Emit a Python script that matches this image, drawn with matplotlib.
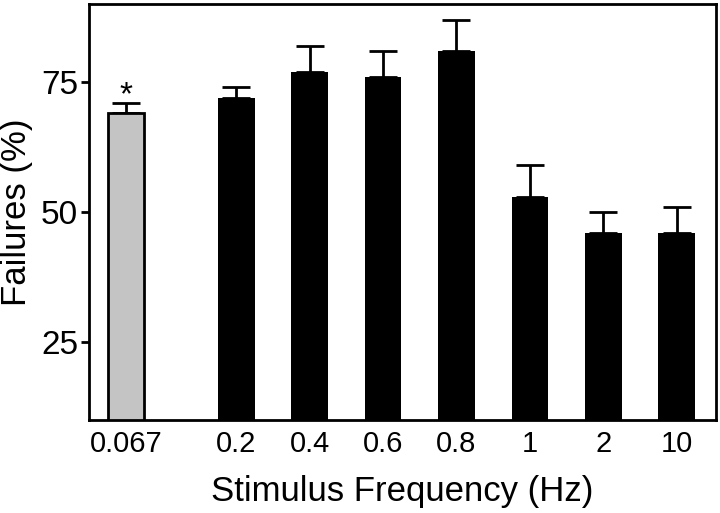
import numpy as np
import matplotlib
matplotlib.use('Agg')
import matplotlib.pyplot as plt

plt.rcParams['font.family'] = ['Liberation Sans', 'DejaVu Sans']

# data
freq_labels = ['0.067', '0.2', '0.4', '0.6', '0.8', '1', '2', '10']
failures = [69, 72, 77, 76, 81, 53, 46, 46]
sem = [2, 2, 5, 5, 6, 6, 4, 5]
bar_colors = ['#c4c4c4', 'black', 'black', 'black', 'black', 'black', 'black', 'black']

# gray control bar sits a bit apart from the rest
xpos = np.array([0, 1.5, 2.5, 3.5, 4.5, 5.5, 6.5, 7.5])

fig = plt.figure(figsize=(7.2, 5.13), dpi=100)
ax = fig.add_axes([0.124, 0.181, 0.870, 0.811])

ax.bar(xpos, failures, width=0.5, bottom=0, color=bar_colors,
       edgecolor=['black'] + ['none'] * 7, linewidth=2, zorder=2)
ax.errorbar(xpos, failures, yerr=[np.zeros(len(sem)), sem], fmt='none',
            ecolor='black', elinewidth=2, capsize=10, capthick=2, zorder=1)
# significance mark over the control bar
ax.text(xpos[0], failures[0] + sem[0] - 1.6, '*', ha='center', va='bottom', fontsize=24)

ax.set_xlim(-0.5, 8.03)
ax.set_ylim(10, 90)
ax.set_yticks([25, 50, 75])
ax.set_xticks(xpos)
ax.set_xticklabels(freq_labels, fontsize=21)
ax.tick_params(axis='y', labelsize=24, length=6, width=2, direction='out', pad=2)
ax.tick_params(axis='x', length=0, pad=7)
for sp in ax.spines.values():
    sp.set_linewidth(2)

ax.set_xlabel('Stimulus Frequency (Hz)', fontsize=25, labelpad=12)
ax.set_ylabel('Failures (%)', fontsize=25)
ax.yaxis.set_label_coords(-0.09, 0.5)

fig.savefig('out.png', dpi=100)
